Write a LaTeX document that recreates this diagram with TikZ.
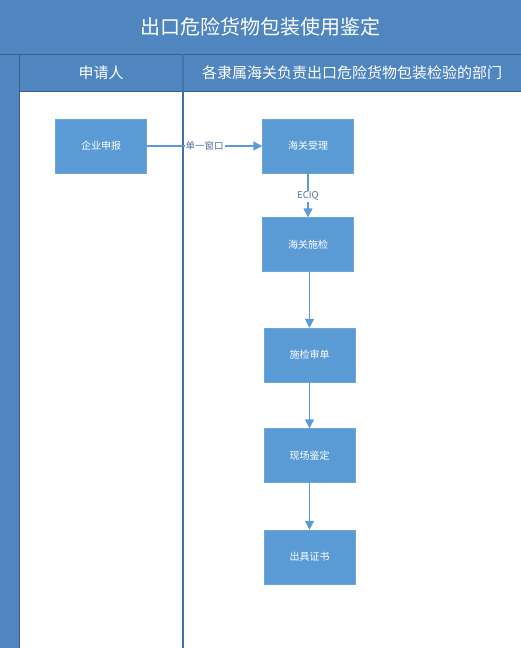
\documentclass[tikz,border=0pt]{standalone}
\usepackage{fontspec}
\setmainfont{Noto Sans CJK SC}
\usetikzlibrary{arrows.meta,positioning}
\definecolor{hdblue}{HTML}{4F86C0}
\definecolor{boxblue}{HTML}{5B9BD5}
\definecolor{lineblue}{HTML}{4470A8}

\tikzset{
  proc/.style={fill=boxblue,draw=boxblue!90!white,minimum width=91pt,minimum height=54pt,
    text=white,font=\fontsize{10}{12}\selectfont,inner sep=0pt},
  flow/.style={draw=boxblue,line width=1.4pt,->},
  lbl/.style={fill=white,text=lineblue!80!gray,font=\fontsize{9.5}{11}\selectfont,inner sep=1pt}
}

\begin{document}
\begin{tikzpicture}[x=1pt,y=-1pt,line join=round,>={Triangle[length=9pt,width=9pt]}]
	\useasboundingbox (0,0) rectangle (521,648);
	% swimlane frame
	\fill[hdblue] (0,0) rectangle (521,54);
	\fill[hdblue] (0,54) rectangle (19,648);
	\fill[hdblue] (19,54) rectangle (521,91);
	\draw[lineblue!85!black,line width=0.6pt] (0,54)--(521,54) (19,54)--(19,648) (19,91)--(521,91);
	\draw[lineblue,line width=1.5pt] (183,54)--(183,648);
	\node[text=white,font=\fontsize{20}{24}\selectfont] (title) at (260,27) {出口危险货物包装使用鉴定};
	\node[text=white,font=\fontsize{15}{18}\selectfont] (lane1) at (101,73) {申请人};
	\node[text=white,font=\fontsize{15}{18}\selectfont] (lane2) at (352,73) {各隶属海关负责出口危险货物包装检验的部门};
	% steps
	\node[proc] (shenbao) at (101,146) {企业申报};
	\node[proc] (shouli) at (308,146) {海关受理};
	\node[proc] (shijian) at (308,244.5) {海关施检};
	\node[proc] (shendan) at (309.5,355) {施检审单};
	\node[proc] (jianding) at (309.5,455.5) {现场鉴定};
	\node[proc] (zhengshu) at (309.5,557) {出具证书};
	% connectors
	\draw[flow] (shenbao)--(shouli) node[lbl,pos=0.5] {单一窗口};
	\draw[flow] (shouli)--(shijian) node[lbl,pos=0.52] {ECIQ};
	\draw[flow] (shijian.south-|shendan)--(shendan);
	\draw[flow] (shendan)--(jianding);
	\draw[flow] (jianding)--(zhengshu);
\end{tikzpicture}
\end{document}
